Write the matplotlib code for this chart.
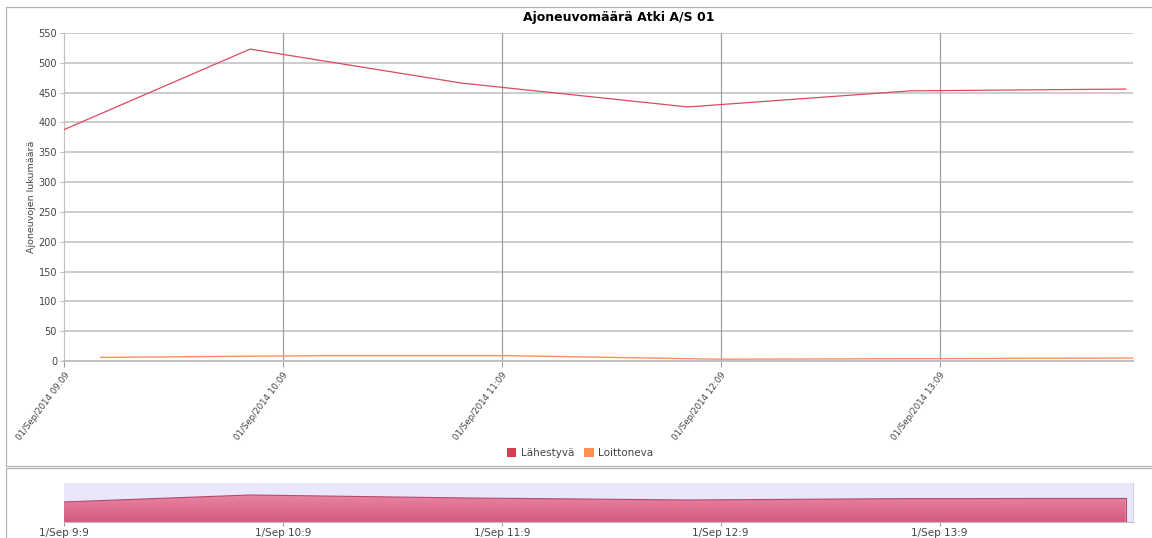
import numpy as np
import pandas as pd
import matplotlib
matplotlib.use("Agg")
import matplotlib.pyplot as plt
import matplotlib.dates as mdates
from matplotlib.patches import Rectangle, Patch
from matplotlib.ticker import FuncFormatter

# data
title = "Ajoneuvomäärä Atki A/S 01"
ylabel = "Ajoneuvojen lukumäärä"
series_names = ["Lähestyvä", "Loittoneva"]

red_times = ["2014-09-01 09:09", "2014-09-01 10:00", "2014-09-01 10:58",
             "2014-09-01 12:00", "2014-09-01 13:01", "2014-09-01 14:00"]
red_values = [388, 523, 466, 426, 453, 456]

orange_times = ["2014-09-01 09:19", "2014-09-01 10:20", "2014-09-01 11:10",
                "2014-09-01 12:09", "2014-09-01 13:09", "2014-09-01 14:02"]
orange_values = [6, 9, 9, 3, 4, 5]

tick_times = ["2014-09-01 09:09", "2014-09-01 10:09", "2014-09-01 11:09",
              "2014-09-01 12:09", "2014-09-01 13:09"]
x_start, x_end = "2014-09-01 09:09", "2014-09-01 14:02"
yticks = list(range(0, 551, 50))

red_c = "#dc4a5c"
orange_c = "#ff9060"

rt = mdates.date2num(pd.to_datetime(red_times))
ot = mdates.date2num(pd.to_datetime(orange_times))
tt = mdates.date2num(pd.to_datetime(tick_times))
x0, x1 = mdates.date2num(pd.to_datetime([x_start, x_end]))

W, H = 1152, 538
fig = plt.figure(figsize=(W / 100, H / 100), dpi=100)
plt.rcParams['font.family'] = ['DejaVu Sans']

# panel borders
fig.patches.append(Rectangle((6 / W, 1 - 465.5 / H), 1.1, (465.5 - 7) / H, transform=fig.transFigure,
                             fill=False, edgecolor="#b4b4b4", lw=0.9))
fig.patches.append(Rectangle((6 / W, -0.1), 1.1, 0.1 + (538 - 468.5) / H, transform=fig.transFigure,
                             fill=False, edgecolor="#b4b4b4", lw=0.9))

# main chart
ax = fig.add_axes([64 / W, 1 - 361 / H, (1133 - 64) / W, (361 - 33) / H])
ax.plot(rt, red_values, color=red_c, lw=0.9, zorder=3)
ax.plot(ot, orange_values, color=orange_c, lw=1.0, zorder=3)
ax.set_xlim(x0, x1)
ax.set_ylim(0, 550)
ax.set_yticks(yticks)
ax.set_xticks(tt)
ax.xaxis.set_major_formatter(mdates.DateFormatter("%d/%b/%Y %H:%M"))
ax.grid(axis="y", color="#cccccc", lw=1.4)
for t in tt[1:]:
    ax.axvline(t, color="#a0a0a0", lw=0.9, zorder=1)
for s in ["top", "right"]:
    ax.spines[s].set_visible(False)
ax.spines["left"].set_color("#c0c0c0")
ax.spines["bottom"].set_color("#c0c0c0")
ax.spines["bottom"].set_linewidth(1.4)
ax.tick_params(axis="y", labelsize=7, colors="#444444", length=3, color="#c0c0c0", pad=2)
ax.tick_params(axis="x", labelsize=6.2, colors="#444444", length=4, color="#a0a0a0", pad=3)
plt.setp(ax.get_xticklabels(), rotation=53, ha="right", rotation_mode="anchor")
ax.set_ylabel(ylabel, fontsize=6.8, color="#444444", va="center")
ax.yaxis.set_label_coords(-32 / 1069, 0.5)
ax.set_axisbelow(True)

fig.text(619 / W, 1 - 18 / H, title, ha="center", va="center", fontsize=9, fontweight="bold")

handles = [Patch(facecolor="#e0394e", edgecolor="none"), Patch(facecolor="#ff9055", edgecolor="none")]
fig.legend(handles, series_names, loc="center", bbox_to_anchor=(580 / W, 1 - 453 / H), ncol=2,
           frameon=False, fontsize=7.5, handlelength=0.9, handleheight=0.9, handletextpad=0.4,
           columnspacing=1.0, labelcolor="#444444")

# navigator
nav = fig.add_axes([64 / W, 1 - 522 / H, (1133 - 64) / W, (522 - 483) / H])
nav.set_facecolor("#e8e8fa")
nav.set_xlim(x0, x1)
nav.set_ylim(0, 755)
poly = nav.fill_between(rt, red_values, 0, facecolor="none", edgecolor="none")
grad = np.linspace(0, 1, 100).reshape(-1, 1)
cmap = matplotlib.colors.LinearSegmentedColormap.from_list("g", ["#d45a80", "#e986a2"])
img = nav.imshow(grad, extent=[rt[0], rt[-1], 0, max(red_values)], aspect="auto",
                 cmap=cmap, origin="lower", zorder=2)
img.set_clip_path(poly.get_paths()[0], transform=nav.transData)
nav.plot(rt, red_values, color="#b84872", lw=0.8, zorder=3)
nav.plot([rt[-1], rt[-1]], [0, red_values[-1]], color="#b84872", lw=0.8, zorder=3)
nav.set_ylim(0, 755)
nav.set_yticks([])
nav.set_xticks(tt)
nav.xaxis.set_major_formatter(FuncFormatter(
    lambda v, p: (lambda d: f"{d.day}/{d:%b} {d.hour}:{d.minute}")(mdates.num2date(v))))
nav.tick_params(axis="x", labelsize=7.5, colors="#444444", length=3, color="#a0a0a0", pad=1)
for s in ["top", "left"]:
    nav.spines[s].set_visible(False)
nav.spines["right"].set_color("#d0d0e8")
nav.spines["bottom"].set_color("#c0c0c0")

fig.savefig("out.png", dpi=100)
